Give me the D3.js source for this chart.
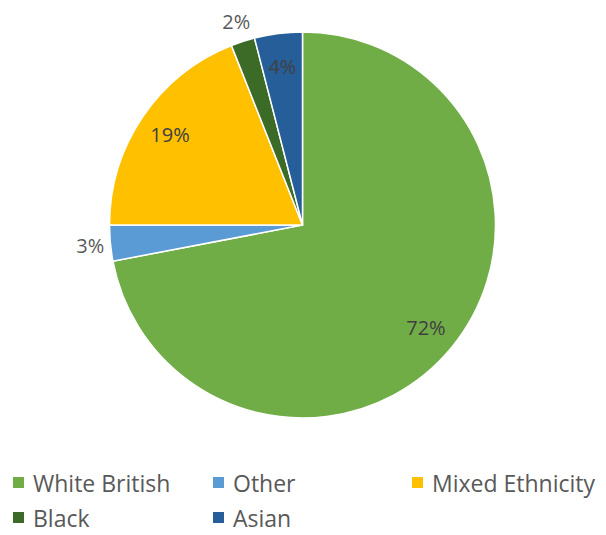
<!DOCTYPE html>
<html>
<head>
<meta charset="utf-8">
<script src="https://cdn.jsdelivr.net/npm/d3@7/dist/d3.min.js"></script>
<style>
  html, body { margin: 0; padding: 0; background: #fff; }
  svg { display: block; font-family: "Open Sans", "Noto Sans", sans-serif; }
</style>
</head>
<body>
<svg id="chart" width="606" height="535"></svg>
<script>
// Ethnic breakdown, percentages
const categories = ["White British", "Other", "Mixed Ethnicity", "Black", "Asian"];
const values = [72, 3, 19, 2, 4];
const colors = ["#70AD47", "#5B9BD5", "#FFC000", "#3B6B26", "#255E99"];
const valueLabels = values.map(v => v + "%");

const svg = d3.select("#chart");
const cx = 302.5, cy = 225, r = 193;

const pie = d3.pie().sort(null).value(d => d.value);
const data = categories.map((c, i) => ({ name: c, value: values[i], color: colors[i], label: valueLabels[i] }));
const arcs = pie(data);

const arc = d3.arc().innerRadius(0).outerRadius(r);
const g = svg.append("g").attr("transform", `translate(${cx},${cy})`);

g.selectAll("path.slice")
  .data(arcs)
  .join("path")
  .attr("class", "slice")
  .attr("d", arc)
  .attr("fill", d => d.data.color)
  .attr("stroke", "#fff")
  .attr("stroke-width", 1.5);

// labels sit inside large slices and just outside the thin ones
const labelRadius = { "White British": 0.83, "Other": 1.105, "Mixed Ethnicity": 0.83, "Black": 1.11, "Asian": 0.83 };
const outside = new Set(["Other", "Black"]);

g.selectAll("text.val")
  .data(arcs)
  .join("text")
  .attr("class", "val")
  .attr("transform", d => {
    const rr = r * labelRadius[d.data.name];
    const p = d3.arc().innerRadius(rr).outerRadius(rr).centroid(d);
    return `translate(${p[0]},${p[1]})`;
  })
  .attr("text-anchor", "middle")
  .attr("dominant-baseline", "central")
  .attr("font-size", 20)
  .attr("fill", d => outside.has(d.data.name) ? "#595959" : "#404040")
  .text(d => d.data.label);

// legend, two rows
const legendPos = [
  { x: 13, y: 477 }, { x: 213, y: 477 }, { x: 412, y: 477 },
  { x: 13, y: 512 }, { x: 213, y: 512 }
];
const lg = svg.append("g").selectAll("g")
  .data(data)
  .join("g")
  .attr("transform", (d, i) => `translate(${legendPos[i].x},${legendPos[i].y})`);
lg.append("rect").attr("width", 11).attr("height", 11).attr("fill", d => d.color);
lg.append("text")
  .attr("x", 20).attr("y", 5.5)
  .attr("dominant-baseline", "central")
  .attr("font-size", 23)
  .attr("fill", "#595959")
  .text(d => d.name);
</script>
</body>
</html>
